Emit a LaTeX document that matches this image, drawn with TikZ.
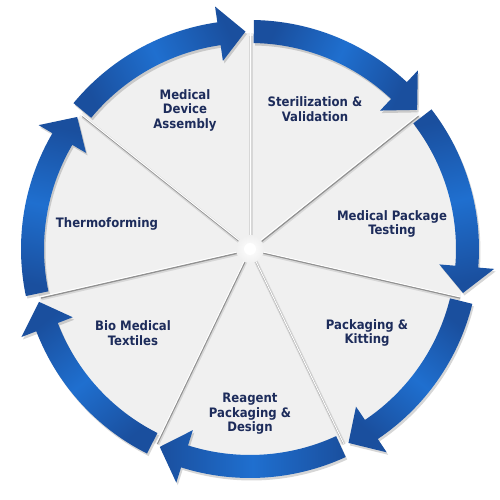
\documentclass[tikz,border=0pt]{standalone}
\usepackage{fontspec}
\setmainfont{DejaVu Sans Condensed}
\usetikzlibrary{calc}
\definecolor{piefill}{HTML}{F0F0F0}
\definecolor{arrowdark}{HTML}{1A4F9E}
\definecolor{arrowlight}{HTML}{1F6FCF}
\definecolor{txt}{HTML}{1D2C5B}
\newcommand{\arrowpath}{(\aa:229) arc[start angle=\aa, end angle=\hb, radius=229]
      -- (\hb:245) -- (\ab:217.5) -- (\hb:190) -- (\hb:206)
      arc[start angle=\hb, end angle=\aa, radius=206] -- cycle}
\begin{document}
\begin{tikzpicture}[x=1pt,y=1pt,
  lbl/.style={font=\bfseries\fontsize{13}{14.5}\selectfont, text=txt, align=center, inner sep=0pt},
  divshadow/.style={line width=3.6pt, draw=black, opacity=0.10},
  divshadowb/.style={line width=1.4pt, draw=black, opacity=0.32},
  divline/.style={line width=1pt, draw=white},
  arrowshadow/.style={fill=black, opacity=0.16},
  arrowbody/.style={left color=arrowdark, right color=arrowdark, middle color=arrowlight}
]
\useasboundingbox (0,0) rectangle (500,500);
\fill[white] (0,0) rectangle (500,500);
\begin{scope}[shift={(250,251)}]
  % pie
  \fill[piefill] (0,0) circle[radius=216];
  % dividers
  \foreach \k in {0,...,6}{
    \pgfmathsetmacro\t{90-360*\k/7}
    \draw[divshadow] (0.8,-1.8) -- ++(\t:215);
    \draw[divshadowb] (0.5,-1.2) -- ++(\t:215);
    \draw[divline] (0,0) -- (\t:216);
  }
  % centre glow
  \shade[inner color=white, outer color=piefill] (0,0) circle[radius=14];
  \fill[white] (0,0) circle[radius=6];
  % arrows
  \foreach \k in {0,...,6}{
    \pgfmathsetmacro\aa{90-360*\k/7-1}
    \pgfmathsetmacro\ab{90-360*(\k+1)/7+1.2}
    \pgfmathsetmacro\hb{\ab+7}
    \pgfmathsetmacro\sa{(\aa+\ab)/2}
    \begin{scope}[shift={(1.5,-2.5)}]
      \fill[arrowshadow] \arrowpath;
    \end{scope}
    \shade[arrowbody, shading angle=\sa] \arrowpath;
  }
\end{scope}
% labels
\node[lbl] (mda) at (185,390) {Medical\\Device\\Assembly};
\node[lbl] (ster) at (315,391) {Sterilization \&\\Validation};
\node[lbl] (mpt) at (392,276) {Medical Package\\Testing};
\node[lbl] (pk) at (367,167) {Packaging \&\\Kitting};
\node[lbl] (rea) at (250,86) {Reagent\\Packaging \&\\Design};
\node[lbl] (bio) at (133,167) {Bio Medical\\Textiles};
\node[lbl] (thermo) at (107,276) {Thermoforming};
\end{tikzpicture}
\end{document}
